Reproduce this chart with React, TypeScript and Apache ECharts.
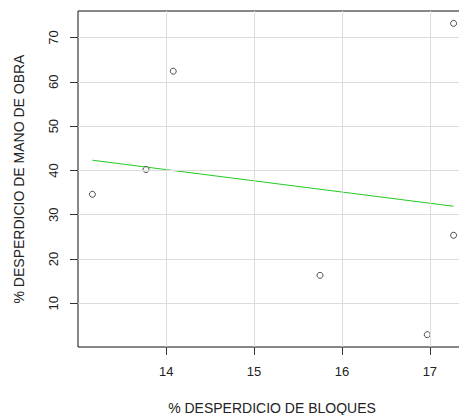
import React, { useEffect, useRef } from "react";
import * as echarts from "echarts";

const xValues = [13.16, 13.77, 14.08, 15.75, 16.97, 17.27, 17.27];
const yValues = [34.6, 40.2, 62.4, 16.3, 2.9, 25.35, 73.2];
const fitX = [13.16, 17.27];
const fitY = [42.3, 31.9];
const xTicks = [14, 15, 16, 17];
const yTicks = [10, 20, 30, 40, 50, 60, 70];
const xTitle = "% DESPERDICIO DE BLOQUES";
const yTitle = "% DESPERDICIO DE MANO DE OBRA";

export default function App() {
  const ref = useRef<HTMLDivElement>(null);
  useEffect(() => {
    if (!ref.current) return;
    const chart = echarts.init(ref.current, null, { renderer: "svg" });
    const font = "Liberation Sans, Arial, sans-serif";
    const gridColor = "#dcdcdc";
    chart.setOption({
      animation: false,
      backgroundColor: "#ffffff",
      grid: {
        left: 78,
        top: 11,
        width: 390,
        height: 336,
        show: true,
        borderColor: "#111",
        borderWidth: 1,
        backgroundColor: "transparent",
        outerBoundsMode: "none",
      },
      xAxis: {
        type: "value",
        min: 12.996,
        max: 17.434,
        axisLine: { show: false },
        splitLine: { show: false },
        axisTick: {
          show: true,
          customValues: xTicks,
          length: 8,
          lineStyle: { color: "#333" },
        },
        axisLabel: {
          customValues: xTicks,
          margin: 18,
          fontSize: 13,
          fontFamily: font,
          color: "#222",
        },
      },
      yAxis: {
        type: "value",
        min: 0.12,
        max: 76,
        axisLine: { show: false },
        splitLine: { show: false },
        axisTick: {
          show: true,
          customValues: yTicks,
          length: 8,
          lineStyle: { color: "#333" },
        },
        axisLabel: {
          customValues: yTicks,
          rotate: 90,
          margin: 18,
          fontSize: 13,
          fontFamily: font,
          color: "#222",
        },
      },
      graphic: [
        {
          type: "text",
          x: 272,
          y: 408,
          style: {
            text: xTitle,
            fontSize: 14,
            fontFamily: font,
            fill: "#222",
            textAlign: "center",
            textVerticalAlign: "middle",
          },
        },
        {
          type: "text",
          x: 19,
          y: 179,
          rotation: Math.PI / 2,
          style: {
            text: yTitle,
            fontSize: 14,
            fontFamily: font,
            fill: "#222",
            textAlign: "center",
            textVerticalAlign: "middle",
          },
        },
      ],
      series: [
        {
          type: "scatter",
          data: [],
          silent: true,
          z: 1,
          markLine: {
            silent: true,
            symbol: "none",
            label: { show: false },
            lineStyle: { color: gridColor, type: "solid", width: 1 },
            data: [
              ...xTicks.map((v) => ({ xAxis: v })),
              ...yTicks.map((v) => ({ yAxis: v })),
            ],
          },
        },
        {
          type: "line",
          data: fitX.map((x, i) => [x, fitY[i]]),
          showSymbol: false,
          symbol: "none",
          lineStyle: { color: "#22cc22", width: 1 },
          z: 2,
        },
        {
          type: "scatter",
          data: xValues.map((x, i) => [x, yValues[i]]),
          symbol: "circle",
          symbolSize: 6,
          itemStyle: { color: "#ffffff", borderColor: "#222", borderWidth: 1 },
          z: 3,
        },
      ],
    });
    return () => chart.dispose();
  }, []);
  return (
    <div
      ref={ref}
      style={{ position: "absolute", left: 0, top: 0, width: 459, height: 415 }}
    />
  );
}
